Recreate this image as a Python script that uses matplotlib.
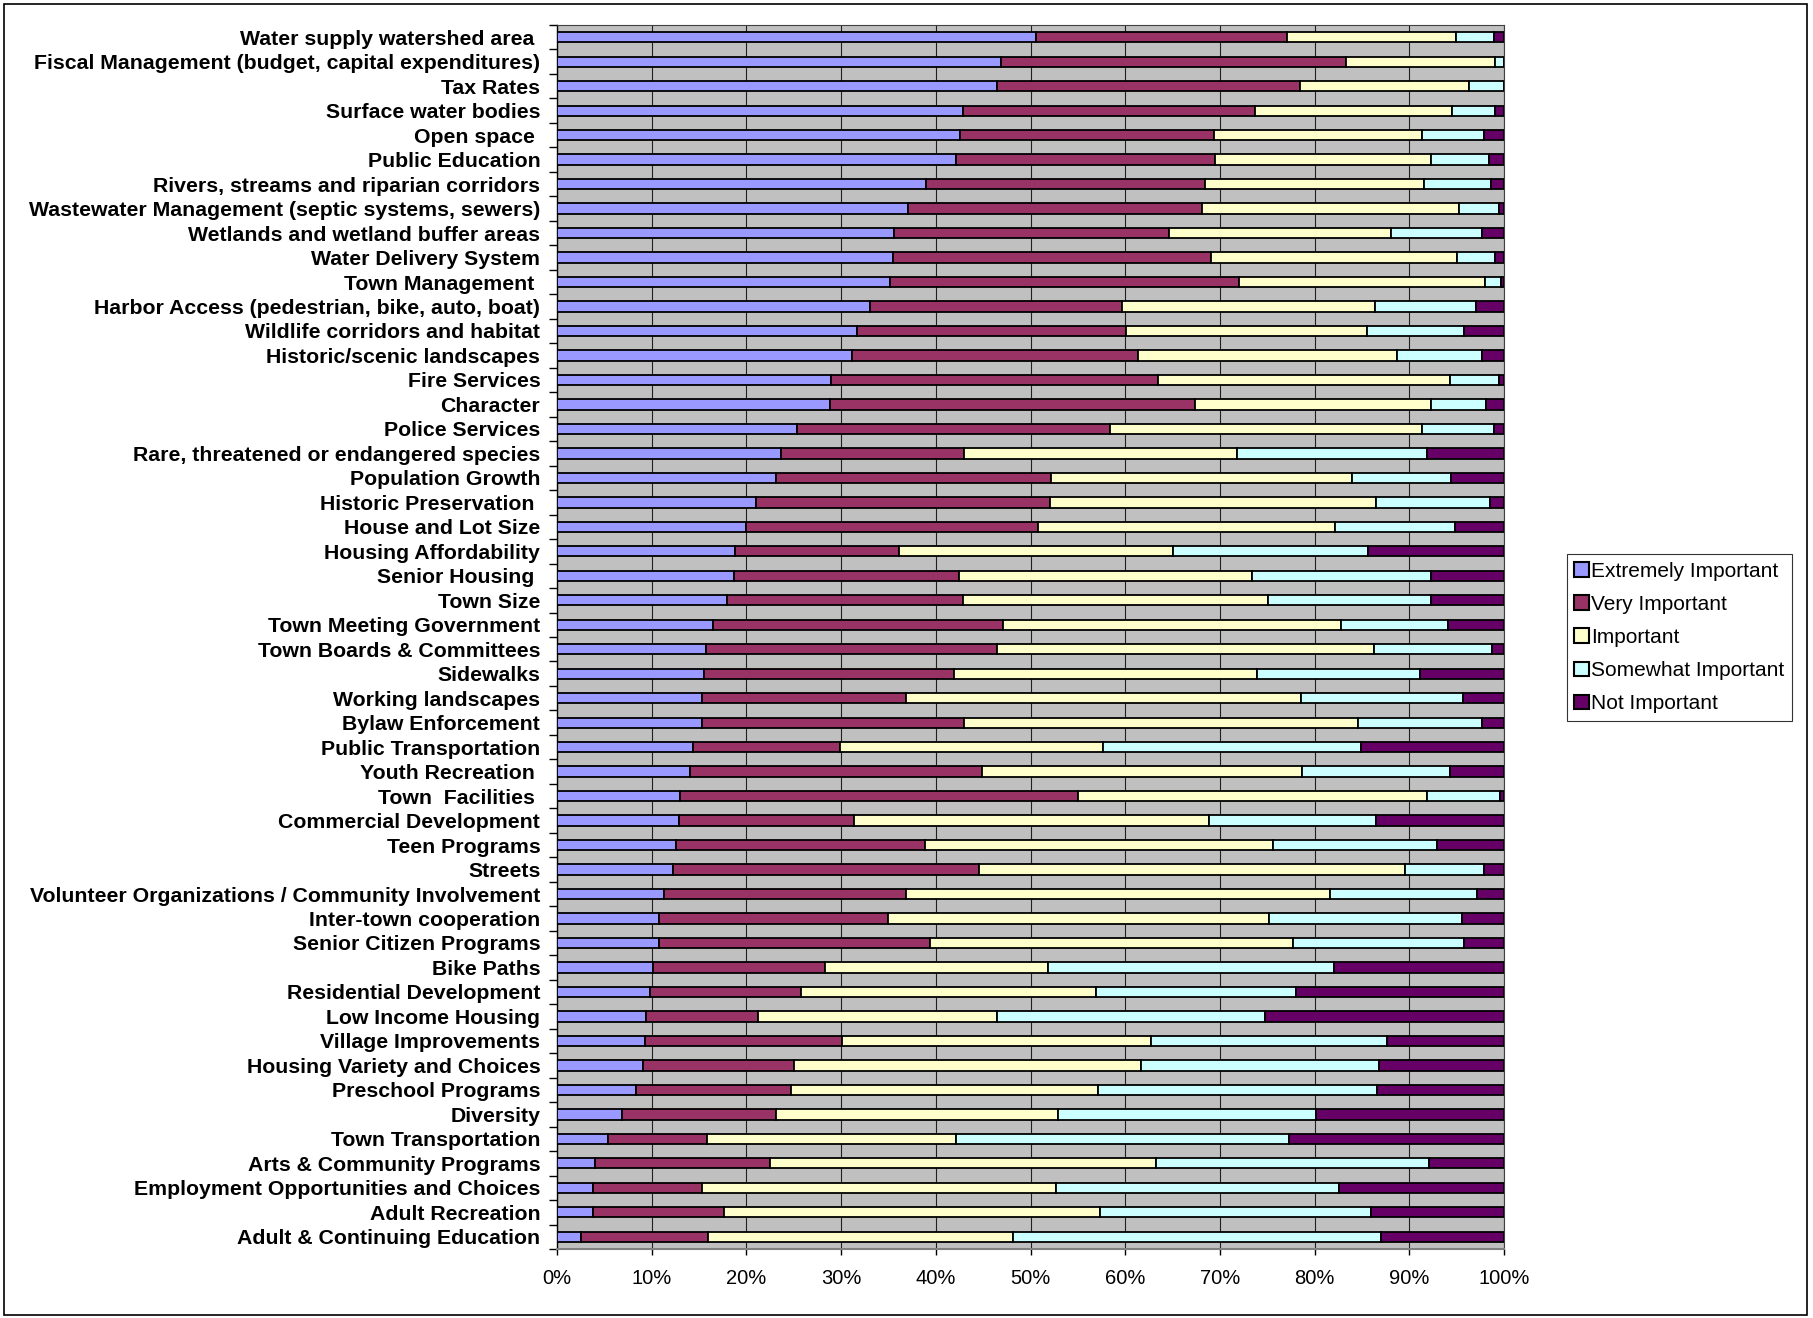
import matplotlib
matplotlib.use("Agg")
import matplotlib.pyplot as plt
from matplotlib.patches import Patch, Rectangle
from matplotlib.ticker import FixedLocator, PercentFormatter
import numpy as np

plt.rcParams['font.family'] = ['Liberation Sans', 'DejaVu Sans']

categories = [
    "Water supply watershed area ",
    "Fiscal Management (budget, capital expenditures)",
    "Tax Rates",
    "Surface water bodies",
    "Open space ",
    "Public Education",
    "Rivers, streams and riparian corridors",
    "Wastewater Management (septic systems, sewers)",
    "Wetlands and wetland buffer areas",
    "Water Delivery System",
    "Town Management ",
    "Harbor Access (pedestrian, bike, auto, boat)",
    "Wildlife corridors and habitat",
    "Historic/scenic landscapes",
    "Fire Services",
    "Character",
    "Police Services",
    "Rare, threatened or endangered species",
    "Population Growth",
    "Historic Preservation ",
    "House and Lot Size",
    "Housing Affordability",
    "Senior Housing ",
    "Town Size",
    "Town Meeting Government",
    "Town Boards & Committees",
    "Sidewalks",
    "Working landscapes",
    "Bylaw Enforcement",
    "Public Transportation",
    "Youth Recreation ",
    "Town  Facilities ",
    "Commercial Development",
    "Teen Programs",
    "Streets",
    "Volunteer Organizations / Community Involvement",
    "Inter-town cooperation",
    "Senior Citizen Programs",
    "Bike Paths",
    "Residential Development",
    "Low Income Housing",
    "Village Improvements",
    "Housing Variety and Choices",
    "Preschool Programs",
    "Diversity",
    "Town Transportation",
    "Arts & Community Programs",
    "Employment Opportunities and Choices",
    "Adult Recreation",
    "Adult & Continuing Education",
]

# Percent of respondents per rating (each row sums to 100)
extremely = [50.6, 46.9, 46.5, 42.9, 42.6, 42.1, 39.0, 37.1, 35.6, 35.5,
             35.2, 33.1, 31.7, 31.2, 28.9, 28.8, 25.3, 23.7, 23.1, 21.0,
             20.0, 18.8, 18.7, 18.0, 16.5, 15.7, 15.5, 15.3, 15.3, 14.4,
             14.0, 13.0, 12.9, 12.6, 12.2, 11.3, 10.8, 10.8, 10.1, 9.8,
             9.4, 9.3, 9.1, 8.3, 6.9, 5.4, 4.0, 3.8, 3.8, 2.5]
very = [26.5, 36.4, 32.0, 30.8, 26.8, 27.4, 29.4, 31.0, 29.0, 33.6,
        36.8, 26.6, 28.4, 30.2, 34.6, 38.6, 33.1, 19.3, 29.1, 31.1,
        30.8, 17.3, 23.7, 24.9, 30.6, 30.8, 26.4, 21.6, 27.7, 15.5,
        30.9, 42.0, 18.5, 26.3, 32.4, 25.6, 24.2, 28.6, 18.2, 16.0,
        11.8, 20.8, 15.9, 16.4, 16.2, 10.4, 18.5, 11.5, 13.8, 13.4]
important = [17.8, 15.8, 17.8, 20.8, 21.9, 22.8, 23.1, 27.1, 23.5, 25.9,
             26.0, 26.7, 25.4, 27.3, 30.8, 24.9, 32.9, 28.8, 31.7, 34.4,
             31.4, 29.0, 31.0, 32.2, 35.7, 39.8, 32.0, 41.7, 41.6, 27.8,
             33.8, 36.9, 37.4, 36.7, 44.9, 44.7, 40.2, 38.3, 23.5, 31.1,
             25.3, 32.6, 36.7, 32.4, 29.8, 26.3, 40.8, 37.4, 39.7, 32.3]
somewhat = [4.0, 0.9, 3.7, 4.5, 6.6, 6.1, 7.1, 4.3, 9.6, 4.1,
            1.7, 10.6, 10.3, 9.0, 5.2, 5.8, 7.6, 20.1, 10.5, 12.0,
            12.6, 20.5, 18.9, 17.2, 11.3, 12.4, 17.2, 17.1, 13.1, 27.2,
            15.6, 7.7, 17.7, 17.3, 8.4, 15.6, 20.4, 18.1, 30.3, 21.1,
            28.3, 24.9, 25.1, 29.5, 27.3, 35.2, 28.8, 29.9, 28.7, 38.8]
not_important = [1.1, 0.0, 0.0, 1.0, 2.1, 1.6, 1.4, 0.5, 2.3, 0.9,
                 0.3, 3.0, 4.2, 2.3, 0.5, 1.9, 1.1, 8.1, 5.6, 1.5,
                 5.2, 14.4, 7.7, 7.7, 5.9, 1.3, 8.9, 4.3, 2.3, 15.1,
                 5.7, 0.4, 13.5, 7.1, 2.1, 2.8, 4.4, 4.2, 17.9, 22.0,
                 25.2, 12.4, 13.2, 13.4, 19.8, 22.7, 7.9, 17.4, 14.0, 13.0]

series = [
    ("Extremely Important", extremely, "#9999FF"),
    ("Very Important", very, "#993366"),
    ("Important", important, "#FFFFCC"),
    ("Somewhat Important", somewhat, "#CCFFFF"),
    ("Not Important", not_important, "#660066"),
]

W, H = 1813, 1318
fig = plt.figure(figsize=(W / 100, H / 100), dpi=100)
ax = fig.add_axes([557 / W, 1 - 1249 / H, (1504 - 557) / W, (1249 - 25) / H])
ax.set_facecolor("#C0C0C0")

n = len(categories)
y = np.arange(n)
left = np.zeros(n)
for name, vals, color in series:
    vals = np.array(vals)
    ax.barh(y, vals, left=left, height=0.42, color=color,
            edgecolor="black", linewidth=1.3, label=name, zorder=3)
    left += vals

ax.set_xlim(0, 100)
ax.set_ylim(n - 0.5, -0.5)

# x axis
ax.xaxis.set_major_locator(FixedLocator(np.arange(0, 101, 10)))
ax.xaxis.set_major_formatter(PercentFormatter(decimals=0))
ax.tick_params(axis="x", length=4.5, width=1, color="black", pad=10,
               labelsize=14.5)
ax.grid(axis="x", color="#202020", linewidth=0.8, zorder=1)

# y axis: labels centred on bars, tick marks between categories
ax.set_yticks(y)
ax.set_yticklabels(categories, fontweight="bold", fontsize=15.3)
ax.tick_params(axis="y", which="major", length=0, pad=12)
ax.yaxis.set_minor_locator(FixedLocator(np.arange(-0.5, n, 1.0)))
ax.tick_params(axis="y", which="minor", length=6, width=1, color="black")

ax.spines["left"].set_color("black")
ax.spines["left"].set_linewidth(1.0)
ax.spines["bottom"].set_color("#808080")
ax.spines["bottom"].set_linewidth(1.5)
ax.spines["top"].set_color("#404040")
ax.spines["top"].set_linewidth(0.8)
ax.spines["right"].set_color("#404040")
ax.spines["right"].set_linewidth(0.8)

handles = [Patch(facecolor=c, edgecolor="black", linewidth=1.5, label=nm)
           for nm, _, c in series]
leg = fig.legend(handles=handles, loc="center left",
                 bbox_to_anchor=(1567 / W, 1 - 637.5 / H),
                 fontsize=15, frameon=True, fancybox=False, shadow=False,
                 borderpad=0.35, labelspacing=0.68, handlelength=0.7,
                 handleheight=0.7, handletextpad=0.12, borderaxespad=0)
leg.get_frame().set_edgecolor("black")
leg.get_frame().set_linewidth(0.8)

# outer chart border
fig.patches.append(Rectangle((4 / W, 3 / H), (1807 - 4) / W, (1314 - 3) / H,
                             transform=fig.transFigure, fill=False,
                             edgecolor="black", linewidth=1.2))

fig.savefig("out.png", dpi=100)
